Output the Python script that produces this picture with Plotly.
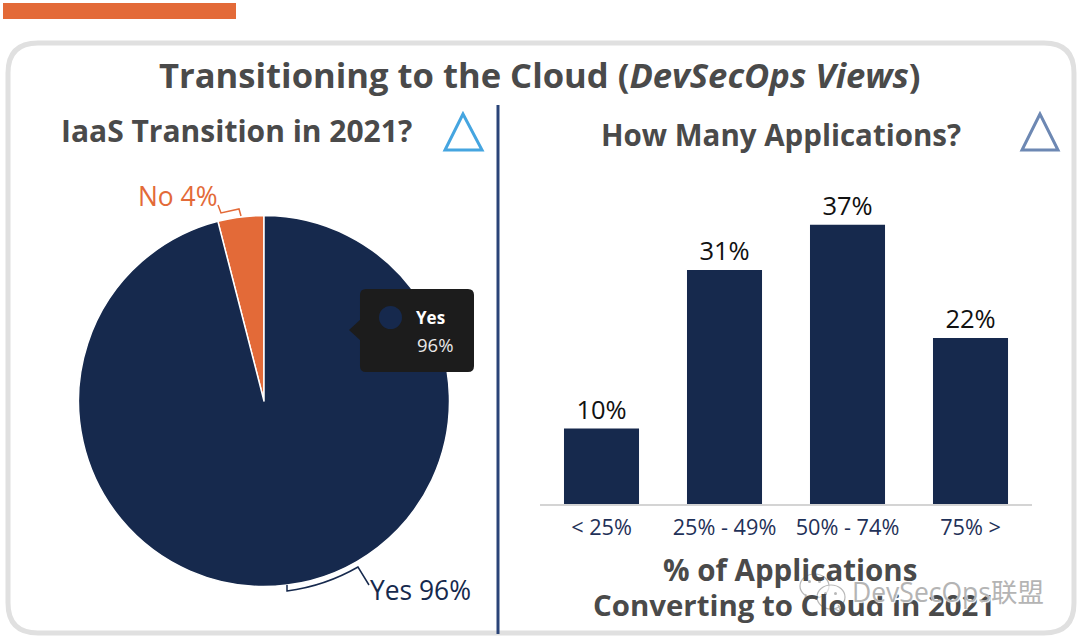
"""Transitioning to the Cloud slide: pie + bars, drawn on one pixel-sized canvas."""

import plotly.graph_objects as go

W, H = 1080, 643

_NAVY = "#16294d"
_ORANGE = "#e36a38"
_INK = "#4a4a4a"
_FRAME = "#e0e0e0"
_FONT = "'Open Sans', 'Noto Sans', 'Noto Sans CJK SC', sans-serif"

pie_labels = ["No", "Yes"]
pie_values = [4, 96]
pie_colors = [_ORANGE, _NAVY]

bar_categories = ["< 25%", "25% - 49%", "50% - 74%", "75% >"]
bar_values = [10, 31, 37, 22]


def px(x):
    return x / W


def py(y):
    return 1 - y / H


def path(*cmds):
    """Build an SVG path in paper units from (command, x, y, ...) tuples."""
    out = []
    for c in cmds:
        coords = c[1:]
        pts = [f"{px(coords[i]):.5f},{py(coords[i + 1]):.5f}" for i in range(0, len(coords), 2)]
        out.append(c[0] + " ".join(pts))
    return " ".join(out)


def round_rect(x0, y0, x1, y1, r):
    return path(
        ("M", x0 + r, y0), ("L", x1 - r, y0), ("Q", x1, y0, x1, y0 + r),
        ("L", x1, y1 - r), ("Q", x1, y1, x1 - r, y1),
        ("L", x0 + r, y1), ("Q", x0, y1, x0, y1 - r),
        ("L", x0, y0 + r), ("Q", x0, y0, x0 + r, y0),
    ) + " Z"


def paper_shape(d, color, width=0, fill=None):
    return dict(type="path", path=d, xref="paper", yref="paper",
                line=dict(color=color, width=width), fillcolor=fill)


def dot(x0, y0, x1, y1, fill, line=None):
    return dict(type="circle", xref="paper", yref="paper",
                x0=px(x0), x1=px(x1), y0=py(y1), y1=py(y0),
                fillcolor=fill, line=line or dict(width=0))


def label(text, x, y, size, color, anchor="center", **font_kw):
    return dict(text=text, x=px(x), y=py(y), xref="paper", yref="paper",
                xanchor=anchor, yanchor="middle", showarrow=False,
                font=dict(family=_FONT, size=size, color=color, **font_kw))


fig = go.Figure()

# rotation puts the 4% slice just left of twelve o'clock
fig.add_trace(go.Pie(
    labels=pie_labels, values=pie_values, sort=False, direction="counterclockwise",
    rotation=-14.4, textinfo="none", hoverinfo="skip", showlegend=False,
    marker=dict(colors=pie_colors, line=dict(color="#ffffff", width=1.5)),
    domain=dict(x=[px(78.5), px(449.5)], y=[py(586.5), py(215.5)]),
))

fig.add_trace(go.Bar(
    x=bar_categories, y=bar_values, width=0.61, marker_color=_NAVY, marker_line_width=0,
    text=[f"{v}%" for v in bar_values], textposition="outside", cliponaxis=False,
    textfont=dict(family=_FONT, size=25.5, color="#111111"),
    hoverinfo="skip", showlegend=False,
))

_BUBBLE = dict(color="#b8b8b8", width=1.2)
_BUBBLE_FILL = "rgba(255,255,255,0.6)"

shapes = [
    paper_shape(round_rect(3, 3, 236, 19, 0.1), _ORANGE, fill=_ORANGE),
    paper_shape(round_rect(8, 43, 1074, 633, 30), _FRAME, width=5),
    # divider
    paper_shape(path(("M", 498, 105), ("L", 498, 634)), "#2a4478", width=3),
    # triangles
    paper_shape(path(("M", 463, 114), ("L", 445, 150), ("L", 482, 150)) + " Z", "#45a5e0", width=3),
    paper_shape(path(("M", 1040, 114), ("L", 1022, 150), ("L", 1058, 150)) + " Z", "#6d88b3", width=3),
    # pie leaders
    paper_shape(path(("M", 218, 205), ("L", 221, 213), ("L", 239, 209), ("L", 241, 216)), _ORANGE, width=1.5),
    paper_shape(path(("M", 287, 585), ("L", 287, 591), ("Q", 325, 586, 358, 567), ("L", 369, 585)), _NAVY, width=1.5),
    # tooltip
    paper_shape(round_rect(360, 289, 474, 372, 6), "#1c1c1c", fill="#1c1c1c"),
    paper_shape(path(("M", 361, 319), ("L", 349, 330), ("L", 361, 341)) + " Z", "#1c1c1c", fill="#1c1c1c"),
    dot(379, 306, 402, 329, _NAVY),
    # watermark bubbles, big one behind the small one
    dot(800, 574, 829, 598, _BUBBLE_FILL, _BUBBLE),
    paper_shape(path(("M", 806, 594), ("L", 804, 602), ("L", 812, 597)), "#b8b8b8", width=1.2),
    dot(817, 585, 845, 609, _BUBBLE_FILL, _BUBBLE),
    paper_shape(path(("M", 838, 605), ("L", 841, 612), ("L", 833, 608)), "#b8b8b8", width=1.2),
    dot(808, 580, 811, 583, "#b8b8b8"),
    dot(818, 580, 821, 583, "#b8b8b8"),
    dot(824, 592, 827, 595, "#b8b8b8"),
    dot(834, 592, 837, 595, "#b8b8b8"),
]

annotations = [
    label("<b>Transitioning to the Cloud (<i>DevSecOps Views</i>)</b>", 540, 74, 34.6, _INK),
    label("<b>IaaS Transition in 2021?</b>", 236, 130, 30, _INK),
    label("<b>How Many Applications?</b>", 781, 134, 29.5, _INK),
    label("<b>% of Applications</b>", 790, 569, 29.5, _INK),
    label("<b>Converting to Cloud in 2021</b>", 793.5, 605, 29.4, _INK),
    label("No 4%", 136, 196, 26.4, _ORANGE, anchor="left"),
    label("Yes 96%", 367.5, 590, 26.4, _NAVY, anchor="left"),
    label("<b>Yes</b>", 414, 317, 17, "#ffffff", anchor="left"),
    label("96%", 414.5, 344, 18.5, "#e8e8e8", anchor="left"),
    label("DevSecOps联盟", 850, 592, 26.5, "#b4b4b4", anchor="left", shadow="1px 1px 1px #ffffff"),
]

fig.update_layout(
    width=W, height=H, autosize=False, margin=dict(l=0, r=0, t=0, b=0),
    paper_bgcolor="#ffffff", plot_bgcolor="#ffffff", font=dict(family=_FONT),
    shapes=shapes, annotations=annotations,
    xaxis=dict(domain=[px(540), px(1032)], type="category", showgrid=False, ticks="",
               showline=True, linecolor="#d4d4d4", linewidth=1.5, ticklabelstandoff=3,
               tickfont=dict(family=_FONT, size=21.7, color="#1f3158")),
    yaxis=dict(domain=[py(504), py(202)], range=[0, 40], visible=False),
)

# the page's default body margin would push the fixed-size figure off the window
fig.write_html("out.html", config={"displayModeBar": False},
               post_script="document.body.style.margin = '0';")
